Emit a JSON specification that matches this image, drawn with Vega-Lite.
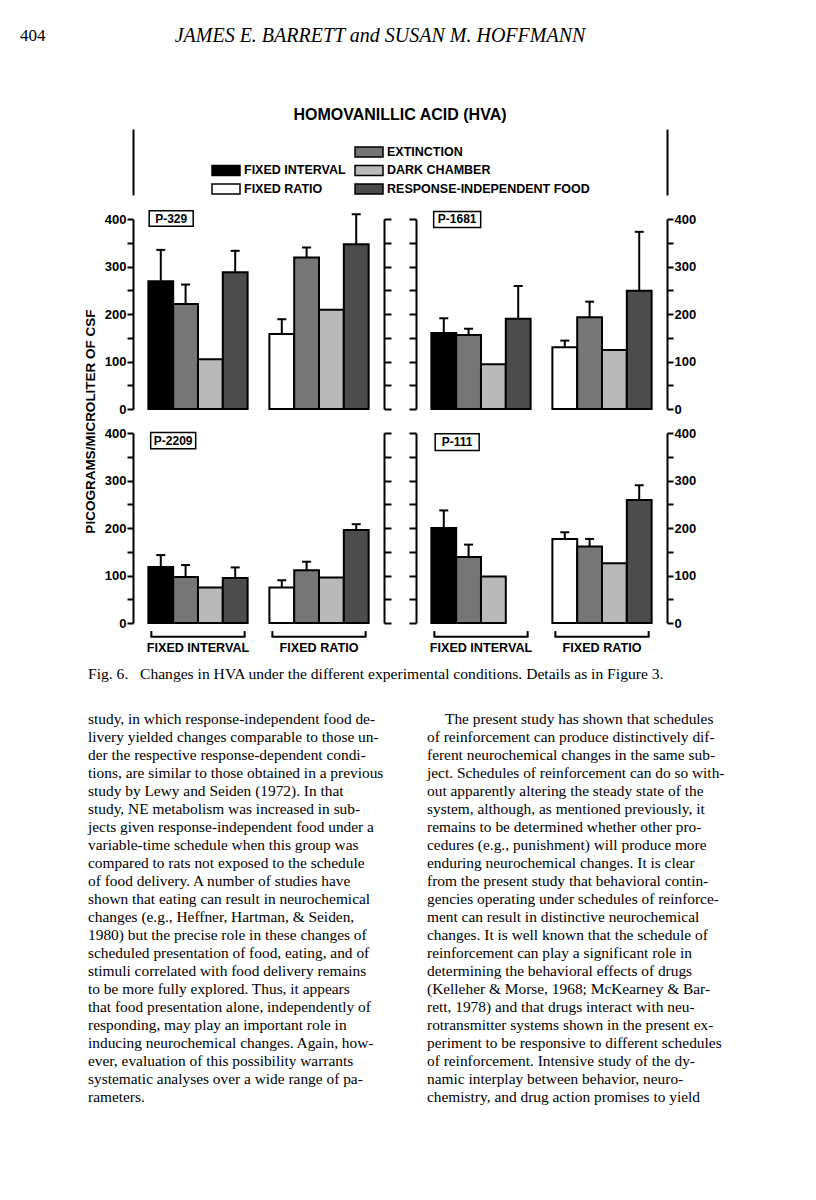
{
  "$schema": "https://vega.github.io/schema/vega-lite/v6.json",
  "padding": {"left": 20, "top": 26, "right": 10, "bottom": 10},
  "background": "white",
  "config": {
    "view": {"stroke": null},
    "font": "Liberation Sans",
    "axis": {"domainColor": "black", "tickColor": "black", "labelColor": "black", "titleColor": "black", "grid": false}
  },
  "datasets": {
    "hva": [
      {"subject": "P-329", "schedule": "FIXED INTERVAL", "condition": "SCHEDULE", "kind": "FIXED INTERVAL", "value": 269, "upper": 335},
      {"subject": "P-329", "schedule": "FIXED INTERVAL", "condition": "EXTINCTION", "kind": "EXTINCTION", "value": 221, "upper": 262},
      {"subject": "P-329", "schedule": "FIXED INTERVAL", "condition": "DARK CHAMBER", "kind": "DARK CHAMBER", "value": 105},
      {"subject": "P-329", "schedule": "FIXED INTERVAL", "condition": "RESPONSE-INDEPENDENT FOOD", "kind": "RESPONSE-INDEPENDENT FOOD", "value": 288, "upper": 333},
      {"subject": "P-329", "schedule": "FIXED RATIO", "condition": "SCHEDULE", "kind": "FIXED RATIO", "value": 158, "upper": 189},
      {"subject": "P-329", "schedule": "FIXED RATIO", "condition": "EXTINCTION", "kind": "EXTINCTION", "value": 319, "upper": 340},
      {"subject": "P-329", "schedule": "FIXED RATIO", "condition": "DARK CHAMBER", "kind": "DARK CHAMBER", "value": 209},
      {"subject": "P-329", "schedule": "FIXED RATIO", "condition": "RESPONSE-INDEPENDENT FOOD", "kind": "RESPONSE-INDEPENDENT FOOD", "value": 347, "upper": 410},
      {"subject": "P-1681", "schedule": "FIXED INTERVAL", "condition": "SCHEDULE", "kind": "FIXED INTERVAL", "value": 160, "upper": 191},
      {"subject": "P-1681", "schedule": "FIXED INTERVAL", "condition": "EXTINCTION", "kind": "EXTINCTION", "value": 156, "upper": 169},
      {"subject": "P-1681", "schedule": "FIXED INTERVAL", "condition": "DARK CHAMBER", "kind": "DARK CHAMBER", "value": 94},
      {"subject": "P-1681", "schedule": "FIXED INTERVAL", "condition": "RESPONSE-INDEPENDENT FOOD", "kind": "RESPONSE-INDEPENDENT FOOD", "value": 190, "upper": 259},
      {"subject": "P-1681", "schedule": "FIXED RATIO", "condition": "SCHEDULE", "kind": "FIXED RATIO", "value": 130, "upper": 144},
      {"subject": "P-1681", "schedule": "FIXED RATIO", "condition": "EXTINCTION", "kind": "EXTINCTION", "value": 193, "upper": 226},
      {"subject": "P-1681", "schedule": "FIXED RATIO", "condition": "DARK CHAMBER", "kind": "DARK CHAMBER", "value": 124},
      {"subject": "P-1681", "schedule": "FIXED RATIO", "condition": "RESPONSE-INDEPENDENT FOOD", "kind": "RESPONSE-INDEPENDENT FOOD", "value": 249, "upper": 373},
      {"subject": "P-2209", "schedule": "FIXED INTERVAL", "condition": "SCHEDULE", "kind": "FIXED INTERVAL", "value": 118, "upper": 143},
      {"subject": "P-2209", "schedule": "FIXED INTERVAL", "condition": "EXTINCTION", "kind": "EXTINCTION", "value": 97, "upper": 122},
      {"subject": "P-2209", "schedule": "FIXED INTERVAL", "condition": "DARK CHAMBER", "kind": "DARK CHAMBER", "value": 75},
      {"subject": "P-2209", "schedule": "FIXED INTERVAL", "condition": "RESPONSE-INDEPENDENT FOOD", "kind": "RESPONSE-INDEPENDENT FOOD", "value": 95, "upper": 117},
      {"subject": "P-2209", "schedule": "FIXED RATIO", "condition": "SCHEDULE", "kind": "FIXED RATIO", "value": 75, "upper": 90},
      {"subject": "P-2209", "schedule": "FIXED RATIO", "condition": "EXTINCTION", "kind": "EXTINCTION", "value": 111, "upper": 129},
      {"subject": "P-2209", "schedule": "FIXED RATIO", "condition": "DARK CHAMBER", "kind": "DARK CHAMBER", "value": 96},
      {"subject": "P-2209", "schedule": "FIXED RATIO", "condition": "RESPONSE-INDEPENDENT FOOD", "kind": "RESPONSE-INDEPENDENT FOOD", "value": 196, "upper": 208},
      {"subject": "P-111", "schedule": "FIXED INTERVAL", "condition": "SCHEDULE", "kind": "FIXED INTERVAL", "value": 200, "upper": 237},
      {"subject": "P-111", "schedule": "FIXED INTERVAL", "condition": "EXTINCTION", "kind": "EXTINCTION", "value": 139, "upper": 165},
      {"subject": "P-111", "schedule": "FIXED INTERVAL", "condition": "DARK CHAMBER", "kind": "DARK CHAMBER", "value": 98},
      {"subject": "P-111", "schedule": "FIXED RATIO", "condition": "SCHEDULE", "kind": "FIXED RATIO", "value": 177, "upper": 191},
      {"subject": "P-111", "schedule": "FIXED RATIO", "condition": "EXTINCTION", "kind": "EXTINCTION", "value": 161, "upper": 177},
      {"subject": "P-111", "schedule": "FIXED RATIO", "condition": "DARK CHAMBER", "kind": "DARK CHAMBER", "value": 126},
      {"subject": "P-111", "schedule": "FIXED RATIO", "condition": "RESPONSE-INDEPENDENT FOOD", "kind": "RESPONSE-INDEPENDENT FOOD", "value": 259, "upper": 290}
    ],
    "legend": [
      {"label": "FIXED INTERVAL", "col": "left", "row": "r2", "kind": "FIXED INTERVAL"},
      {"label": "FIXED RATIO", "col": "left", "row": "r3", "kind": "FIXED RATIO"},
      {"label": "EXTINCTION", "col": "right", "row": "r1", "kind": "EXTINCTION"},
      {"label": "DARK CHAMBER", "col": "right", "row": "r2", "kind": "DARK CHAMBER"},
      {"label": "RESPONSE-INDEPENDENT FOOD", "col": "right", "row": "r3", "kind": "RESPONSE-INDEPENDENT FOOD"}
    ],
    "groups": [
      {"schedule": "FIXED INTERVAL"},
      {"schedule": "FIXED RATIO"}
    ],
    "body": [
      {"column": "left", "line": 1, "text": "study, in which response-independent food de-"},
      {"column": "left", "line": 2, "text": "livery yielded changes comparable to those un-"},
      {"column": "left", "line": 3, "text": "der the respective response-dependent condi-"},
      {"column": "left", "line": 4, "text": "tions, are similar to those obtained in a previous"},
      {"column": "left", "line": 5, "text": "study by Lewy and Seiden (1972). In that"},
      {"column": "left", "line": 6, "text": "study, NE metabolism was increased in sub-"},
      {"column": "left", "line": 7, "text": "jects given response-independent food under a"},
      {"column": "left", "line": 8, "text": "variable-time schedule when this group was"},
      {"column": "left", "line": 9, "text": "compared to rats not exposed to the schedule"},
      {"column": "left", "line": 10, "text": "of food delivery. A number of studies have"},
      {"column": "left", "line": 11, "text": "shown that eating can result in neurochemical"},
      {"column": "left", "line": 12, "text": "changes (e.g., Heffner, Hartman, & Seiden,"},
      {"column": "left", "line": 13, "text": "1980) but the precise role in these changes of"},
      {"column": "left", "line": 14, "text": "scheduled presentation of food, eating, and of"},
      {"column": "left", "line": 15, "text": "stimuli correlated with food delivery remains"},
      {"column": "left", "line": 16, "text": "to be more fully explored. Thus, it appears"},
      {"column": "left", "line": 17, "text": "that food presentation alone, independently of"},
      {"column": "left", "line": 18, "text": "responding, may play an important role in"},
      {"column": "left", "line": 19, "text": "inducing neurochemical changes. Again, how-"},
      {"column": "left", "line": 20, "text": "ever, evaluation of this possibility warrants"},
      {"column": "left", "line": 21, "text": "systematic analyses over a wide range of pa-"},
      {"column": "left", "line": 22, "text": "rameters."},
      {"column": "right", "line": 1, "text": "The present study has shown that schedules"},
      {"column": "right", "line": 2, "text": "of reinforcement can produce distinctively dif-"},
      {"column": "right", "line": 3, "text": "ferent neurochemical changes in the same sub-"},
      {"column": "right", "line": 4, "text": "ject. Schedules of reinforcement can do so with-"},
      {"column": "right", "line": 5, "text": "out apparently altering the steady state of the"},
      {"column": "right", "line": 6, "text": "system, although, as mentioned previously, it"},
      {"column": "right", "line": 7, "text": "remains to be determined whether other pro-"},
      {"column": "right", "line": 8, "text": "cedures (e.g., punishment) will produce more"},
      {"column": "right", "line": 9, "text": "enduring neurochemical changes. It is clear"},
      {"column": "right", "line": 10, "text": "from the present study that behavioral contin-"},
      {"column": "right", "line": 11, "text": "gencies operating under schedules of reinforce-"},
      {"column": "right", "line": 12, "text": "ment can result in distinctive neurochemical"},
      {"column": "right", "line": 13, "text": "changes. It is well known that the schedule of"},
      {"column": "right", "line": 14, "text": "reinforcement can play a significant role in"},
      {"column": "right", "line": 15, "text": "determining the behavioral effects of drugs"},
      {"column": "right", "line": 16, "text": "(Kelleher & Morse, 1968; McKearney & Bar-"},
      {"column": "right", "line": 17, "text": "rett, 1978) and that drugs interact with neu-"},
      {"column": "right", "line": 18, "text": "rotransmitter systems shown in the present ex-"},
      {"column": "right", "line": 19, "text": "periment to be responsive to different schedules"},
      {"column": "right", "line": 20, "text": "of reinforcement. Intensive study of the dy-"},
      {"column": "right", "line": 21, "text": "namic interplay between behavior, neuro-"},
      {"column": "right", "line": 22, "text": "chemistry, and drug action promises to yield"}
    ]
  },
  "bounds": "flush",
  "align": "each",
  "columns": 2,
  "spacing": {"row": 24, "column": 32},
  "concat": [
    {
      "width": 251,
      "height": 78,
      "data": {"values": [{"part": "folio", "text": "404"}, {"part": "running head", "text": "JAMES E. BARRETT and SUSAN M. HOFFMANN"}]},
      "layer": [
        {"transform": [{"filter": "datum.part === 'folio'"}], "mark": {"type": "text", "align": "left", "baseline": "middle", "dx": -238.5, "dy": -30, "font": "Liberation Serif", "fontSize": 17, "color": "black"}, "encoding": {"text": {"field": "text"}}},
        {"transform": [{"filter": "datum.part === 'running head'"}], "mark": {"type": "text", "align": "center", "baseline": "middle", "dx": 121.5, "dy": -30, "font": "Liberation Serif", "fontStyle": "italic", "fontSize": 20, "color": "black"}, "encoding": {"text": {"field": "text"}}}
      ]
    },
    {
      "width": 251,
      "height": 78,
      "data": {"values": [{"blank": ""}]},
      "mark": {"type": "text"},
      "encoding": {"text": {"field": "blank"}}
    },
    {
      "width": 251,
      "height": 66,
      "title": {"text": "HOMOVANILLIC ACID (HVA)", "font": "Liberation Sans", "fontSize": 16, "fontWeight": "bold", "anchor": "middle", "dx": 141.5, "offset": 6, "color": "black"},
      "data": {"name": "legend"},
      "layer": [
        {
          "mark": {"type": "point", "shape": "M-1,-0.36H1V0.36H-1Z", "size": 784, "filled": true, "stroke": "black", "strokeWidth": 1.5, "opacity": 1},
          "encoding": {
            "x": {"field": "col", "type": "nominal", "scale": {"type": "point", "domain": ["left", "right", "pad1", "pad2"], "range": [0, 534], "padding": 0.367, "align": 0.886}, "axis": {"orient": "top", "domain": true, "domainWidth": 2, "ticks": false, "labels": false, "title": null}},
            "y": {"field": "row", "type": "nominal", "scale": {"type": "point", "domain": ["r1", "r2", "r3"], "padding": 0.784, "align": 0.793}, "axis": {"orient": "left", "domain": true, "domainWidth": 2, "ticks": false, "labels": false, "title": null}},
            "fill": {"field": "kind", "type": "nominal", "scale": {"domain": ["FIXED INTERVAL", "FIXED RATIO", "EXTINCTION", "DARK CHAMBER", "RESPONSE-INDEPENDENT FOOD"], "range": ["#000000", "#ffffff", "#767676", "#b9b9b9", "#4c4c4c"]}, "legend": null}
          }
        },
        {
          "mark": {"type": "text", "align": "left", "baseline": "middle", "dx": 18, "font": "Liberation Sans", "fontWeight": "bold", "fontSize": 12.5, "color": "black"},
          "encoding": {
            "x": {"field": "col", "type": "nominal", "axis": null},
            "y": {"field": "row", "type": "nominal", "axis": {"orient": "right", "offset": 283, "domain": true, "domainWidth": 2, "ticks": false, "labels": false, "title": null}},
            "text": {"field": "label"}
          }
        }
      ],
      "resolve": {"axis": {"y": "independent"}}
    },
    {
      "width": 251,
      "height": 66,
      "data": {"values": [{"blank": ""}]},
      "mark": {"type": "text"},
      "encoding": {"text": {"field": "blank"}}
    },
    {
      "width": 251, "height": 190,
      "data": {"name": "hva"},
      "transform": [{"filter": "datum.subject === 'P-329'"}],
      "layer": [
        {
          "mark": {"type": "bar", "stroke": "black", "strokeWidth": 2},
          "encoding": {
            "x": {"field": "schedule", "type": "nominal", "scale": {"domain": ["FIXED INTERVAL", "FIXED RATIO"], "paddingInner": 0.18, "paddingOuter": 0.127}, "axis": null},
            "xOffset": {"field": "condition", "type": "nominal", "scale": {"domain": ["SCHEDULE", "EXTINCTION", "DARK CHAMBER", "RESPONSE-INDEPENDENT FOOD"], "paddingInner": 0, "paddingOuter": 0}},
            "y": {"field": "value", "type": "quantitative", "scale": {"domain": [0, 400], "nice": false}, "axis": {"orient": "left", "values": [0, 50, 100, 150, 200, 250, 300, 350, 400], "labelExpr": "datum.value % 100 === 0 ? datum.label : ''", "tickSize": 6, "tickWidth": 2, "domainWidth": 2, "labelFont": "Liberation Sans", "labelFontWeight": "bold", "labelFontSize": 13, "labelPadding": 1, "title": "PICOGRAMS/MICROLITER OF CSF", "titleFont": "Liberation Sans", "titleFontWeight": "bold", "titleFontSize": 13.5, "titleX": -43, "titleY": 202, "titleAlign": "center", "titleBaseline": "middle"}},
            "fill": {"field": "kind", "type": "nominal", "scale": {"domain": ["FIXED INTERVAL", "FIXED RATIO", "EXTINCTION", "DARK CHAMBER", "RESPONSE-INDEPENDENT FOOD"], "range": ["#000000", "#ffffff", "#767676", "#b9b9b9", "#4c4c4c"]}, "legend": null}
          }
        },
        {
          "transform": [{"filter": "isValid(datum.upper)"}],
          "mark": {"type": "rule", "strokeWidth": 2, "color": "black"},
          "encoding": {
            "x": {"field": "schedule", "type": "nominal", "axis": null},
            "xOffset": {"field": "condition", "type": "nominal"},
            "y": {"field": "value", "type": "quantitative", "axis": {"orient": "right", "values": [0, 50, 100, 150, 200, 250, 300, 350, 400], "labels": false, "tickSize": 7, "tickWidth": 2, "domainWidth": 2, "title": null}},
            "y2": {"field": "upper"}
          }
        },
        {
          "transform": [{"filter": "isValid(datum.upper)"}],
          "mark": {"type": "tick", "thickness": 2, "size": 9, "opacity": 1, "color": "black"},
          "encoding": {
            "x": {"field": "schedule", "type": "nominal", "axis": null},
            "xOffset": {"field": "condition", "type": "nominal"},
            "y": {"field": "upper", "type": "quantitative", "axis": null}
          }
        },
        {
          "data": {"values": [{"panel": "P-329"}]},
          "layer": [
            {"mark": {"type": "point", "shape": "M-1,-0.35H1V0.35H-1Z", "size": 1936, "filled": false, "stroke": "black", "strokeWidth": 1.5, "opacity": 1}, "encoding": {"x": {"datum": "FIXED INTERVAL", "bandPosition": 0.23, "axis": null}, "y": {"datum": 401, "axis": null}}},
            {"mark": {"type": "text", "font": "Liberation Sans", "fontWeight": "bold", "fontSize": 12, "baseline": "middle", "align": "center", "color": "black"}, "encoding": {"x": {"datum": "FIXED INTERVAL", "bandPosition": 0.23, "axis": null}, "y": {"datum": 401, "axis": null}, "text": {"field": "panel"}}}
          ]
        }
      ],
      "resolve": {"axis": {"y": "independent"}}
    },
    {
      "width": 251, "height": 190,
      "data": {"name": "hva"},
      "transform": [{"filter": "datum.subject === 'P-1681'"}],
      "layer": [
        {
          "mark": {"type": "bar", "stroke": "black", "strokeWidth": 2},
          "encoding": {
            "x": {"field": "schedule", "type": "nominal", "scale": {"domain": ["FIXED INTERVAL", "FIXED RATIO"], "paddingInner": 0.18, "paddingOuter": 0.127}, "axis": null},
            "xOffset": {"field": "condition", "type": "nominal", "scale": {"domain": ["SCHEDULE", "EXTINCTION", "DARK CHAMBER", "RESPONSE-INDEPENDENT FOOD"], "paddingInner": 0, "paddingOuter": 0}},
            "y": {"field": "value", "type": "quantitative", "scale": {"domain": [0, 400], "nice": false}, "axis": {"orient": "left", "values": [0, 50, 100, 150, 200, 250, 300, 350, 400], "labels": false, "tickSize": 7, "tickWidth": 2, "domainWidth": 2, "title": null}},
            "fill": {"field": "kind", "type": "nominal", "scale": {"domain": ["FIXED INTERVAL", "FIXED RATIO", "EXTINCTION", "DARK CHAMBER", "RESPONSE-INDEPENDENT FOOD"], "range": ["#000000", "#ffffff", "#767676", "#b9b9b9", "#4c4c4c"]}, "legend": null}
          }
        },
        {
          "transform": [{"filter": "isValid(datum.upper)"}],
          "mark": {"type": "rule", "strokeWidth": 2, "color": "black"},
          "encoding": {
            "x": {"field": "schedule", "type": "nominal", "axis": null},
            "xOffset": {"field": "condition", "type": "nominal"},
            "y": {"field": "value", "type": "quantitative", "axis": {"orient": "right", "values": [0, 50, 100, 150, 200, 250, 300, 350, 400], "labelExpr": "datum.value % 100 === 0 ? datum.label : ''", "tickSize": 6, "tickWidth": 2, "domainWidth": 2, "labelFont": "Liberation Sans", "labelFontWeight": "bold", "labelFontSize": 13, "labelPadding": 1, "title": null}},
            "y2": {"field": "upper"}
          }
        },
        {
          "transform": [{"filter": "isValid(datum.upper)"}],
          "mark": {"type": "tick", "thickness": 2, "size": 9, "opacity": 1, "color": "black"},
          "encoding": {
            "x": {"field": "schedule", "type": "nominal", "axis": null},
            "xOffset": {"field": "condition", "type": "nominal"},
            "y": {"field": "upper", "type": "quantitative", "axis": null}
          }
        },
        {
          "data": {"values": [{"panel": "P-1681"}]},
          "layer": [
            {"mark": {"type": "point", "shape": "M-1,-0.34H1V0.34H-1Z", "size": 2209, "filled": false, "stroke": "black", "strokeWidth": 1.5, "opacity": 1}, "encoding": {"x": {"datum": "FIXED INTERVAL", "bandPosition": 0.26, "axis": null}, "y": {"datum": 399, "axis": null}}},
            {"mark": {"type": "text", "font": "Liberation Sans", "fontWeight": "bold", "fontSize": 12, "baseline": "middle", "align": "center", "color": "black"}, "encoding": {"x": {"datum": "FIXED INTERVAL", "bandPosition": 0.26, "axis": null}, "y": {"datum": 399, "axis": null}, "text": {"field": "panel"}}}
          ]
        }
      ],
      "resolve": {"axis": {"y": "independent"}}
    },
    {
      "width": 251, "height": 190,
      "data": {"name": "hva"},
      "transform": [{"filter": "datum.subject === 'P-2209'"}],
      "layer": [
        {
          "mark": {"type": "bar", "stroke": "black", "strokeWidth": 2},
          "encoding": {
            "x": {"field": "schedule", "type": "nominal", "scale": {"domain": ["FIXED INTERVAL", "FIXED RATIO"], "paddingInner": 0.18, "paddingOuter": 0.127}, "axis": null},
            "xOffset": {"field": "condition", "type": "nominal", "scale": {"domain": ["SCHEDULE", "EXTINCTION", "DARK CHAMBER", "RESPONSE-INDEPENDENT FOOD"], "paddingInner": 0, "paddingOuter": 0}},
            "y": {"field": "value", "type": "quantitative", "scale": {"domain": [0, 400], "nice": false}, "axis": {"orient": "left", "values": [0, 50, 100, 150, 200, 250, 300, 350, 400], "labelExpr": "datum.value % 100 === 0 ? datum.label : ''", "tickSize": 6, "tickWidth": 2, "domainWidth": 2, "labelFont": "Liberation Sans", "labelFontWeight": "bold", "labelFontSize": 13, "labelPadding": 1, "title": null}},
            "fill": {"field": "kind", "type": "nominal", "scale": {"domain": ["FIXED INTERVAL", "FIXED RATIO", "EXTINCTION", "DARK CHAMBER", "RESPONSE-INDEPENDENT FOOD"], "range": ["#000000", "#ffffff", "#767676", "#b9b9b9", "#4c4c4c"]}, "legend": null}
          }
        },
        {
          "transform": [{"filter": "isValid(datum.upper)"}],
          "mark": {"type": "rule", "strokeWidth": 2, "color": "black"},
          "encoding": {
            "x": {"field": "schedule", "type": "nominal", "axis": null},
            "xOffset": {"field": "condition", "type": "nominal"},
            "y": {"field": "value", "type": "quantitative", "axis": {"orient": "right", "values": [0, 50, 100, 150, 200, 250, 300, 350, 400], "labels": false, "tickSize": 7, "tickWidth": 2, "domainWidth": 2, "title": null}},
            "y2": {"field": "upper"}
          }
        },
        {
          "transform": [{"filter": "isValid(datum.upper)"}],
          "mark": {"type": "tick", "thickness": 2, "size": 9, "opacity": 1, "color": "black"},
          "encoding": {
            "x": {"field": "schedule", "type": "nominal", "axis": null},
            "xOffset": {"field": "condition", "type": "nominal"},
            "y": {"field": "upper", "type": "quantitative", "axis": null}
          }
        },
        {
          "data": {"values": [{"panel": "P-2209"}]},
          "layer": [
            {"mark": {"type": "point", "shape": "M-1,-0.36H1V0.36H-1Z", "size": 2025, "filled": false, "stroke": "black", "strokeWidth": 1.5, "opacity": 1}, "encoding": {"x": {"datum": "FIXED INTERVAL", "bandPosition": 0.25, "axis": null}, "y": {"datum": 384, "axis": null}}},
            {"mark": {"type": "text", "font": "Liberation Sans", "fontWeight": "bold", "fontSize": 12, "baseline": "middle", "align": "center", "color": "black"}, "encoding": {"x": {"datum": "FIXED INTERVAL", "bandPosition": 0.25, "axis": null}, "y": {"datum": 384, "axis": null}, "text": {"field": "panel"}}}
          ]
        },
        {
          "data": {"name": "groups"},
          "layer": [
            {"mark": {"type": "tick", "thickness": 2, "size": 95, "opacity": 1, "color": "black"}, "encoding": {"x": {"field": "schedule", "type": "nominal", "axis": null}, "y": {"datum": -29, "axis": null}}},
            {"mark": {"type": "rule", "strokeWidth": 2, "color": "black"}, "encoding": {"x": {"field": "schedule", "type": "nominal", "bandPosition": 0.03, "axis": null}, "y": {"datum": -29, "axis": null}, "y2": {"datum": -17}}},
            {"mark": {"type": "rule", "strokeWidth": 2, "color": "black"}, "encoding": {"x": {"field": "schedule", "type": "nominal", "bandPosition": 0.97, "axis": null}, "y": {"datum": -29, "axis": null}, "y2": {"datum": -17}}},
            {"mark": {"type": "text", "font": "Liberation Sans", "fontWeight": "bold", "fontSize": 12.6, "baseline": "middle", "align": "center", "color": "black"}, "encoding": {"x": {"field": "schedule", "type": "nominal", "axis": null}, "y": {"datum": -53, "axis": null}, "text": {"field": "schedule"}}}
          ]
        }
      ],
      "resolve": {"axis": {"y": "independent"}}
    },
    {
      "width": 251, "height": 190,
      "data": {"name": "hva"},
      "transform": [{"filter": "datum.subject === 'P-111'"}],
      "layer": [
        {
          "mark": {"type": "bar", "stroke": "black", "strokeWidth": 2},
          "encoding": {
            "x": {"field": "schedule", "type": "nominal", "scale": {"domain": ["FIXED INTERVAL", "FIXED RATIO"], "paddingInner": 0.18, "paddingOuter": 0.127}, "axis": null},
            "xOffset": {"field": "condition", "type": "nominal", "scale": {"domain": ["SCHEDULE", "EXTINCTION", "DARK CHAMBER", "RESPONSE-INDEPENDENT FOOD"], "paddingInner": 0, "paddingOuter": 0}},
            "y": {"field": "value", "type": "quantitative", "scale": {"domain": [0, 400], "nice": false}, "axis": {"orient": "left", "values": [0, 50, 100, 150, 200, 250, 300, 350, 400], "labels": false, "tickSize": 7, "tickWidth": 2, "domainWidth": 2, "title": null}},
            "fill": {"field": "kind", "type": "nominal", "scale": {"domain": ["FIXED INTERVAL", "FIXED RATIO", "EXTINCTION", "DARK CHAMBER", "RESPONSE-INDEPENDENT FOOD"], "range": ["#000000", "#ffffff", "#767676", "#b9b9b9", "#4c4c4c"]}, "legend": null}
          }
        },
        {
          "transform": [{"filter": "isValid(datum.upper)"}],
          "mark": {"type": "rule", "strokeWidth": 2, "color": "black"},
          "encoding": {
            "x": {"field": "schedule", "type": "nominal", "axis": null},
            "xOffset": {"field": "condition", "type": "nominal"},
            "y": {"field": "value", "type": "quantitative", "axis": {"orient": "right", "values": [0, 50, 100, 150, 200, 250, 300, 350, 400], "labelExpr": "datum.value % 100 === 0 ? datum.label : ''", "tickSize": 6, "tickWidth": 2, "domainWidth": 2, "labelFont": "Liberation Sans", "labelFontWeight": "bold", "labelFontSize": 13, "labelPadding": 1, "title": null}},
            "y2": {"field": "upper"}
          }
        },
        {
          "transform": [{"filter": "isValid(datum.upper)"}],
          "mark": {"type": "tick", "thickness": 2, "size": 9, "opacity": 1, "color": "black"},
          "encoding": {
            "x": {"field": "schedule", "type": "nominal", "axis": null},
            "xOffset": {"field": "condition", "type": "nominal"},
            "y": {"field": "upper", "type": "quantitative", "axis": null}
          }
        },
        {
          "data": {"values": [{"panel": "P-111"}]},
          "layer": [
            {"mark": {"type": "point", "shape": "M-1,-0.38H1V0.38H-1Z", "size": 1936, "filled": false, "stroke": "black", "strokeWidth": 1.5, "opacity": 1}, "encoding": {"x": {"datum": "FIXED INTERVAL", "bandPosition": 0.26, "axis": null}, "y": {"datum": 381, "axis": null}}},
            {"mark": {"type": "text", "font": "Liberation Sans", "fontWeight": "bold", "fontSize": 12, "baseline": "middle", "align": "center", "color": "black"}, "encoding": {"x": {"datum": "FIXED INTERVAL", "bandPosition": 0.26, "axis": null}, "y": {"datum": 381, "axis": null}, "text": {"field": "panel"}}}
          ]
        },
        {
          "data": {"name": "groups"},
          "layer": [
            {"mark": {"type": "tick", "thickness": 2, "size": 95, "opacity": 1, "color": "black"}, "encoding": {"x": {"field": "schedule", "type": "nominal", "axis": null}, "y": {"datum": -29, "axis": null}}},
            {"mark": {"type": "rule", "strokeWidth": 2, "color": "black"}, "encoding": {"x": {"field": "schedule", "type": "nominal", "bandPosition": 0.03, "axis": null}, "y": {"datum": -29, "axis": null}, "y2": {"datum": -17}}},
            {"mark": {"type": "rule", "strokeWidth": 2, "color": "black"}, "encoding": {"x": {"field": "schedule", "type": "nominal", "bandPosition": 0.97, "axis": null}, "y": {"datum": -29, "axis": null}, "y2": {"datum": -17}}},
            {"mark": {"type": "text", "font": "Liberation Sans", "fontWeight": "bold", "fontSize": 12.6, "baseline": "middle", "align": "center", "color": "black"}, "encoding": {"x": {"field": "schedule", "type": "nominal", "axis": null}, "y": {"datum": -53, "axis": null}, "text": {"field": "schedule"}}}
          ]
        }
      ],
      "resolve": {"axis": {"y": "independent"}}
    },
    {
      "width": 251,
      "height": 39,
      "data": {"values": [{"caption": "Fig. 6.\u00a0\u00a0 Changes in HVA under the different experimental conditions. Details as in Figure 3."}]},
      "mark": {"type": "text", "align": "left", "baseline": "middle", "dx": -170.5, "dy": 7.5, "font": "Liberation Serif", "fontSize": 15.6, "color": "black"},
      "encoding": {"text": {"field": "caption"}}
    },
    {
      "width": 251,
      "height": 39,
      "data": {"values": [{"blank": ""}]},
      "mark": {"type": "text"},
      "encoding": {"text": {"field": "blank"}}
    },
    {
      "width": 251,
      "height": 396,
      "data": {"name": "body"},
      "transform": [{"filter": "datum.column === 'left'"}],
      "mark": {"type": "text", "align": "left", "baseline": "middle", "dx": -170.5, "font": "Liberation Serif", "fontSize": 15.4, "color": "black"},
      "encoding": {
        "y": {"field": "line", "type": "ordinal", "scale": {"type": "band", "paddingInner": 0, "paddingOuter": 0}, "axis": null},
        "text": {"field": "text"}
      }
    },
    {
      "width": 251,
      "height": 396,
      "data": {"name": "body"},
      "transform": [{"filter": "datum.column === 'right'"}],
      "layer": [
        {
          "transform": [{"filter": "datum.line !== 1"}],
          "mark": {"type": "text", "align": "left", "baseline": "middle", "dx": -114.5, "font": "Liberation Serif", "fontSize": 15.4, "color": "black"},
          "encoding": {
            "y": {"field": "line", "type": "ordinal", "scale": {"type": "band", "domain": [1, 2, 3, 4, 5, 6, 7, 8, 9, 10, 11, 12, 13, 14, 15, 16, 17, 18, 19, 20, 21, 22], "paddingInner": 0, "paddingOuter": 0}, "axis": null},
            "text": {"field": "text"}
          }
        },
        {
          "transform": [{"filter": "datum.line === 1"}],
          "mark": {"type": "text", "align": "left", "baseline": "middle", "dx": -96.5, "font": "Liberation Serif", "fontSize": 15.4, "color": "black"},
          "encoding": {
            "y": {"field": "line", "type": "ordinal", "axis": null},
            "text": {"field": "text"}
          }
        }
      ]
    }
  ]
}
